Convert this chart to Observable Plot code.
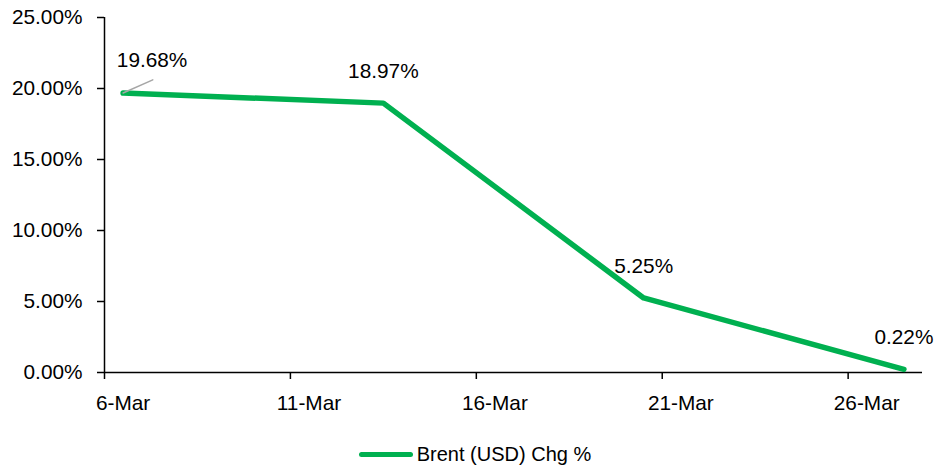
<!DOCTYPE html>
<html>
<head>
<meta charset="utf-8">
<script src="https://cdn.jsdelivr.net/npm/d3@7"></script>
<script src="https://cdn.jsdelivr.net/npm/@observablehq/plot@0.6"></script>
<style>
  html, body { margin: 0; padding: 0; background: #fff; }
  body { width: 936px; height: 472px; overflow: hidden; font-family: "Liberation Sans", Arial, sans-serif; }
  #legend { height: 42px; display: flex; justify-content: center; align-items: center; padding-top: 6px; box-sizing: border-box; font-size: 20px; color: #000; padding-left: 14px; }
  #legend .sw { width: 54px; height: 5px; border-radius: 3px; background: #00b050; margin-right: 4px; }
</style>
</head>
<body>
<div id="chart"></div>
<div id="legend"><span class="sw"></span><span>Brent (USD) Chg %</span></div>
<script>
// Data
const dates = ["2025-03-06", "2025-03-13", "2025-03-20", "2025-03-27"];
const brentChg = [19.68, 18.97, 5.25, 0.22];
const seriesName = "Brent (USD) Chg %";
const xTickDates = ["2025-03-06", "2025-03-11", "2025-03-16", "2025-03-21", "2025-03-26"];
const xDomain = ["2025-03-06", "2025-03-28"];
const yTicks = [0, 5, 10, 15, 20, 25];

const parse = d3.utcParse("%Y-%m-%d");
const data = dates.map((d, i) => ({date: parse(d), value: brentChg[i]}));
const ticksX = xTickDates.map(parse);
const midDay = d => d3.utcHour.offset(d.date, 12);
const pct = v => v.toFixed(2) + "%";
const green = "#00b050";
const fs = 20.8;

const chart = Plot.plot({
  width: 936,
  height: 430,
  marginLeft: 104,
  marginRight: 14,
  marginTop: 17,
  marginBottom: 58,
  style: {fontFamily: "Liberation Sans, Arial, sans-serif", fontSize: fs + "px", color: "#000", background: "#fff"},
  x: {type: "utc", domain: xDomain.map(parse)},
  y: {domain: [0, 25]},
  marks: [
    Plot.axisY({ticks: yTicks, tickFormat: pct, tickSize: 7, tickPadding: 15, label: null, fontSize: fs, stroke: "#000", strokeWidth: 1.5, strokeOpacity: 1}),
    Plot.axisX({ticks: ticksX, tickFormat: () => "", tickSize: 7, label: null, stroke: "#000", strokeWidth: 1.5, strokeOpacity: 1}),
    Plot.axisX({ticks: ticksX, tickFormat: d3.utcFormat("%-d-%b"), tickSize: 0, tickPadding: 23, dx: 18.6, label: null, fontSize: fs}),
    Plot.ruleY([0], {stroke: "#000", strokeWidth: 1.5}),
    Plot.ruleX([parse(xDomain[0])], {stroke: "#000", strokeWidth: 1.5}),
    Plot.line(data, {x: midDay, y: "value", stroke: green, strokeWidth: 5.5, strokeLinecap: "round", strokeLinejoin: "round"}),
    Plot.vector(data.slice(0, 1), {x: midDay, y: "value", anchor: "start", length: 32.5, rotate: 66, r: 0, stroke: "#a6a6a6", strokeWidth: 1.5}),
    Plot.text(data.slice(0, 1), {x: midDay, y: "value", text: d => pct(d.value), dx: 29, dy: -33, fontSize: fs, fill: "#000"}),
    Plot.text(data.slice(1), {x: midDay, y: "value", text: d => pct(d.value), dy: -32, fontSize: fs, fill: "#000"})
  ]
});
document.getElementById("chart").append(chart);
</script>
</body>
</html>
